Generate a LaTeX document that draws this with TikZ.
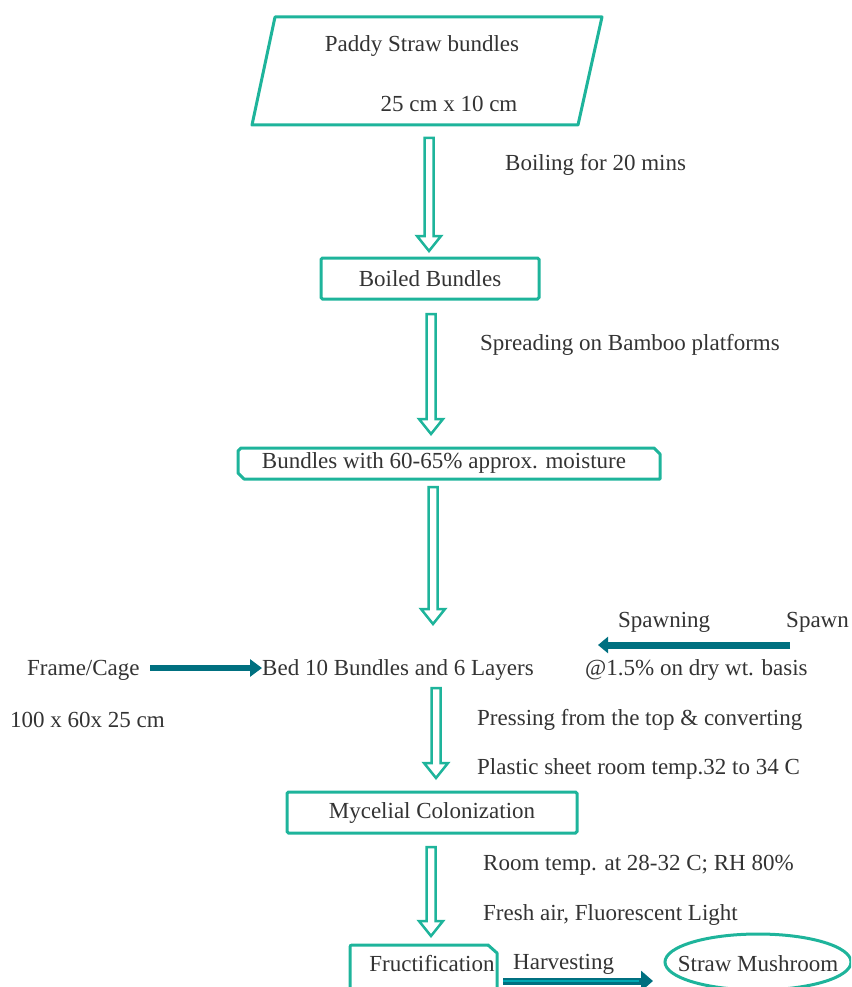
\documentclass[tikz,border=0pt]{standalone}
\usepackage{fontspec}
\setmainfont{Liberation Serif}
\usetikzlibrary{calc,arrows.meta,shapes.geometric}
\definecolor{boxteal}{RGB}{30,180,155}
\definecolor{darkteal}{RGB}{0,112,128}
\tikzset{
  stepbox/.style={draw=boxteal, line width=3pt, rounded corners=1.5pt, minimum height=41pt, inner sep=0pt, text=black!80},
  hollow/.style={draw=boxteal, line width=2.5pt, fill=white, line join=miter,
    to path={let \p1=(\tikztostart), \p2=(\tikztotarget) in
      (\x1-4.5pt,\y1) -- (\x1-4.5pt,\y2+15pt) -- (\x1-12pt,\y2+15pt) -- (\x1,\y2)
      -- (\x1+12pt,\y2+15pt) -- (\x1+4.5pt,\y2+15pt) -- (\x1+4.5pt,\y1) -- cycle}},
  feed/.style={draw=darkteal, line width=6pt, -{Triangle[length=12pt,width=17pt]}},
  lbl/.style={anchor=west, inner sep=0pt, text=black!80},
  txt/.style={inner sep=0pt, text=black!80},
}
\begin{document}
\begin{tikzpicture}[x=1pt,y=1pt,font=\fontsize{23}{27}\selectfont]
    \useasboundingbox (0,0) rectangle (851,-987);
    \clip (0,0) rectangle (851,-987);

    % straw bundles
    \draw[boxteal, line width=3pt, line join=round] (275,-17) -- (602,-17) -- (578,-125) -- (252,-125) -- cycle;
    \node[txt] (paddy) at (422,-46) {Paddy Straw bundles};
    \node[txt] (size) at (449,-104) {25 cm x 10 cm};

    \coordinate (a1s) at (429,-138);
    \coordinate (a1e) at (429,-251);
    \draw[hollow] (a1s) to (a1e);
    \node[lbl] (boil) at (505,-165) {Boiling for 20 mins};

    \node[stepbox, minimum width=218pt] (boiled) at (430,-278.5) {Boiled Bundles};

    \coordinate (a2s) at (431,-314);
    \coordinate (a2e) at (431,-434);
    \draw[hollow] (a2s) to (a2e);
    \node[lbl] (spread) at (480,-345) {Spreading on Bamboo platforms};

    % moisture box
    \draw[boxteal, line width=3pt, line join=round] (241,-448) -- (654,-448) -- (660,-454) -- (660,-479) -- (244,-479) -- (238,-473) -- (238,-451) -- cycle;
    \node[txt] (moist) at (444,-463) {Bundles with 60-65\% approx. moisture};

    \coordinate (a3s) at (433,-487);
    \coordinate (a3e) at (433,-624);
    \draw[hollow] (a3s) to (a3e);

    % bed and inputs
    \node[lbl] (bed) at (262,-670) {Bed 10 Bundles and 6 Layers};
    \node[lbl] (frame) at (27,-670) {Frame/Cage};
    \node[lbl] (cage) at (10,-720) {100 x 60x 25 cm};
    \coordinate (f1) at (150,-668);
    \draw[feed] (f1) -- (bed.west |- f1);
    \node[lbl] (spawning) at (618,-622) {Spawning};
    \node[lbl] (spawn) at (786,-622) {Spawn};
    \node[lbl] (rate) at (585,-670) {@1.5\% on dry wt. basis};
    \coordinate (sp1) at (790,-645);
    \coordinate (sp2) at (598,-645);
    \draw[feed, line width=7pt, -{Triangle[length=10pt,width=16pt]}] (sp1) -- (sp2);

    \coordinate (a4s) at (436,-688);
    \coordinate (a4e) at (436,-778);
    \draw[hollow] (a4s) to (a4e);
    \node[lbl] (press) at (477,-720) {Pressing from the top \& converting};
    \node[lbl] (sheet) at (477,-769) {Plastic sheet room temp.32 to 34 C};

    \node[stepbox, minimum width=290pt] (myc) at (432,-812.5) {Mycelial Colonization};

    \coordinate (a5s) at (431,-847);
    \coordinate (a5e) at (431,-936);
    \draw[hollow] (a5s) to (a5e);
    \node[lbl] (room) at (483,-865) {Room temp. at 28-32 C; RH 80\%};
    \node[lbl] (air) at (483,-915) {Fresh air, Fluorescent Light};

    % fruiting and harvest
    \draw[boxteal, line width=3pt, rounded corners=2pt] (350,-1000) -- (350,-945) -- (489,-945);
    \draw[boxteal, line width=3pt, line join=round] (488,-945) -- (497,-953) -- (497,-1000);
    \node[txt] (fruct) at (432,-964) {Fructification};
    \node[lbl] (harv) at (513,-964) {Harvesting};
    \node[ellipse, draw=boxteal, line width=3pt, minimum width=186pt, minimum height=56pt, inner sep=0pt] (mush) at (758,-962) {};
    \node[txt] (straw) at ([yshift=-2pt]mush.center) {Straw Mushroom};
    \coordinate (h1) at (503,-981);
    \coordinate (h2) at (653,-981);
    \draw[feed, line width=7pt, -{Triangle[length=12pt,width=20pt]}] (h1) -- (h2);
    \draw[darkteal!60!cyan, line width=1.5pt] (h1) -- ([xshift=-14pt]h2);
\end{tikzpicture}
\end{document}
